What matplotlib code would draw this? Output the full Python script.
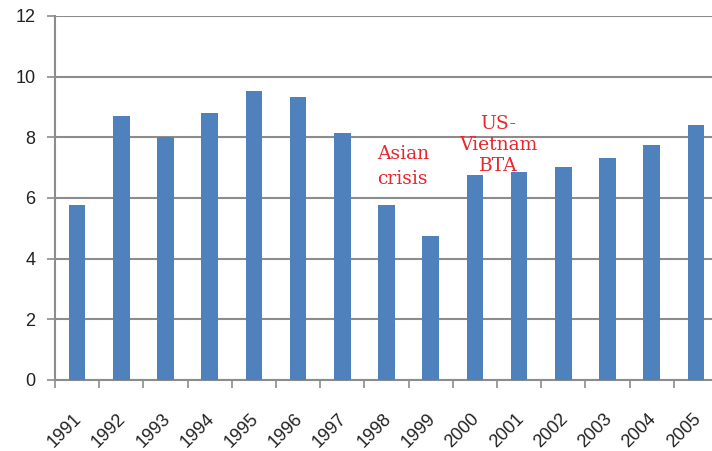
import matplotlib
matplotlib.use("Agg")
import matplotlib.pyplot as plt
import matplotlib.transforms as mtransforms
import numpy as np

years = ["1991", "1992", "1993", "1994", "1995", "1996", "1997", "1998",
         "1999", "2000", "2001", "2002", "2003", "2004", "2005"]
values = [5.77, 8.70, 8.02, 8.81, 9.54, 9.32, 8.13, 5.77,
          4.76, 6.76, 6.87, 7.03, 7.31, 7.75, 8.41]
y_ticks = [0, 2, 4, 6, 8, 10, 12]

fig = plt.figure(figsize=(7.12, 4.51), dpi=100)
ax = fig.add_axes([55/712, 71/451, 663/712, 364/451])

x = np.arange(len(years))
ax.bar(x, values, width=0.38, color="#4F81BD", zorder=3)

ax.set_xlim(-0.5, len(years) - 0.5)
ax.set_ylim(0, 12)
ax.set_yticks(y_ticks)
ax.set_yticklabels([str(t) for t in y_ticks], fontsize=13, color="#222222",
                   family="Liberation Sans")
ax.yaxis.grid(True, color="#8c8c8c", linewidth=1.5, zorder=0)
ax.tick_params(axis="y", length=6, width=1.2, color="#8c8c8c", pad=8)

# x ticks at category boundaries, labels at centers
ax.set_xticks(np.arange(len(years) + 1) - 0.5)
ax.set_xticklabels([])
ax.set_xticks(x, minor=True)
ax.set_xticklabels(years, minor=True, rotation=45, ha="right", va="top",
                   rotation_mode="anchor", fontsize=13, color="#222222",
                   family="Liberation Sans")
ax.tick_params(axis="x", which="major", length=6, width=1.2, color="#8c8c8c")
ax.tick_params(axis="x", which="minor", length=0, pad=22)
shift = mtransforms.ScaledTranslation(-4 / 100, 0, fig.dpi_scale_trans)
for lbl in ax.get_xticklabels(minor=True):
    lbl.set_transform(lbl.get_transform() + shift)

for side in ["top", "right"]:
    ax.spines[side].set_visible(False)
for side in ["left", "bottom"]:
    ax.spines[side].set_color("#8c8c8c")
    ax.spines[side].set_linewidth(1.5)

ax.text(7.37, 7.04, "Asian\ncrisis", color="#e8262e", fontsize=13.5,
        family="DejaVu Serif", ha="center", va="center",
        linespacing=1.45, zorder=4)
ax.text(9.52, 7.75, "US-\nVietnam\nBTA", color="#e8262e", fontsize=13.5,
        family="DejaVu Serif", ha="center", va="center",
        linespacing=1.2, zorder=4)

fig.savefig("out.png", dpi=100)
